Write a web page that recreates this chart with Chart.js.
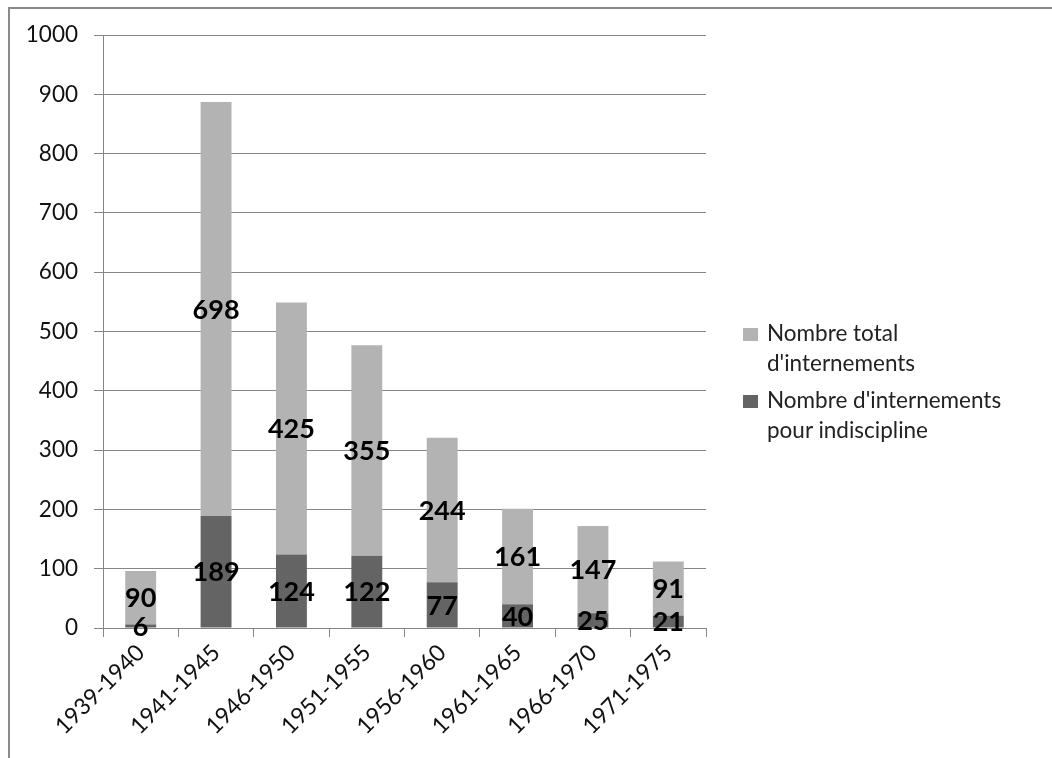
<!DOCTYPE html>
<html>
<head>
<meta charset="utf-8">
<script src="https://cdn.jsdelivr.net/npm/chart.js@4.4.1/dist/chart.umd.min.js"></script>
<style>
  body { margin: 0; background: #fff; font-family: Lato, 'Open Sans', sans-serif; }
  #wrap { position: relative; width: 1052px; height: 758px; overflow: hidden; }
  #frame { position: absolute; left: 8px; top: 7px; right: -5px; bottom: -5px; border-top: 2px solid #8a8a8a; border-left: 2px solid #8a8a8a; }
  #legend { position: absolute; left: 743px; top: 318px; font-size: 22.5px; line-height: 30px; color: #222; }
  .item { position: relative; padding-left: 24px; margin-bottom: 7px; }
  .box { position: absolute; left: 0; top: 10px; width: 15px; height: 13px; }
</style>
</head>
<body>
<div id="wrap">
  <canvas id="chart" width="1052" height="758"></canvas>
  <div id="frame"></div>
  <div id="legend"></div>
</div>
<script>
const periods = ['1939-1940', '1941-1945', '1946-1950', '1951-1955', '1956-1960', '1961-1965', '1966-1970', '1971-1975']
const indiscipline = [6, 189, 124, 122, 77, 40, 25, 21]
const total = [90, 698, 425, 355, 244, 161, 147, 91]
const seriesNames = ["Nombre d'internements pour indiscipline", "Nombre total d'internements"]
const yTicks = [0, 100, 200, 300, 400, 500, 600, 700, 800, 900, 1000]

const darkGrey = '#646464'
const lightGrey = '#b3b3b3'
const lineGrey = '#868686'

// draw the value in the middle of each bar piece
const barLabels = {
    id: 'barLabels',
    afterDatasetsDraw(chart) {
        const ctx = chart.ctx
        ctx.save()
        ctx.font = 'bold 27px Lato'
        ctx.fillStyle = '#000'
        ctx.textAlign = 'center'
        ctx.textBaseline = 'middle'
        chart.data.datasets.forEach((ds, i) => {
            chart.getDatasetMeta(i).data.forEach((bar, j) => {
                ctx.fillText(ds.data[j], bar.x, (bar.y + bar.base) / 2 + 1)
            })
        })
        ctx.restore()
    }
}

const ctx = document.getElementById('chart').getContext('2d')
const chart = new Chart(ctx, {
    type: 'bar',
    data: {
        labels: periods,
        datasets: [
            { label: seriesNames[0], data: indiscipline, backgroundColor: darkGrey },
            { label: seriesNames[1], data: total, backgroundColor: lightGrey }
        ]
    },
    options: {
        responsive: false,
        animation: false,
        layout: { padding: { left: 9, right: 346, top: 35, bottom: 0 } },
        plugins: { legend: { display: false }, tooltip: { enabled: false } },
        datasets: { bar: { barPercentage: 0.41, categoryPercentage: 1 } },
        scales: {
            x: {
                stacked: true,
                grid: { offset: true, drawOnChartArea: false, drawTicks: true, tickLength: 9, color: lineGrey },
                border: { color: lineGrey },
                ticks: { minRotation: 45, maxRotation: 45, color: '#111', font: { family: 'Lato', size: 23 }, padding: 2 },
                afterFit(scale) { scale.height = 130 }
            },
            y: {
                stacked: true,
                min: 0,
                max: 1000,
                afterBuildTicks(scale) { scale.ticks = yTicks.map(v => ({ value: v })) },
                grid: { color: lineGrey, tickLength: 9 },
                border: { color: lineGrey },
                ticks: { color: '#111', font: { family: 'Lato', size: 22.5 }, padding: 16, callback: v => String(v) },
                afterFit(scale) { scale.width = 94 }
            }
        }
    },
    plugins: [barLabels]
})

// legend, top series first like in the original
const legend = document.getElementById('legend')
const legendItems = [
    { name: ['Nombre total', "d'internements"], color: lightGrey },
    { name: ["Nombre d'internements", 'pour indiscipline'], color: darkGrey }
]
legendItems.forEach(it => {
    const div = document.createElement('div')
    div.className = 'item'
    div.innerHTML = `<span class="box" style="background:${it.color}"></span>${it.name.join('<br>')}`
    legend.appendChild(div)
})
</script>
</body>
</html>
